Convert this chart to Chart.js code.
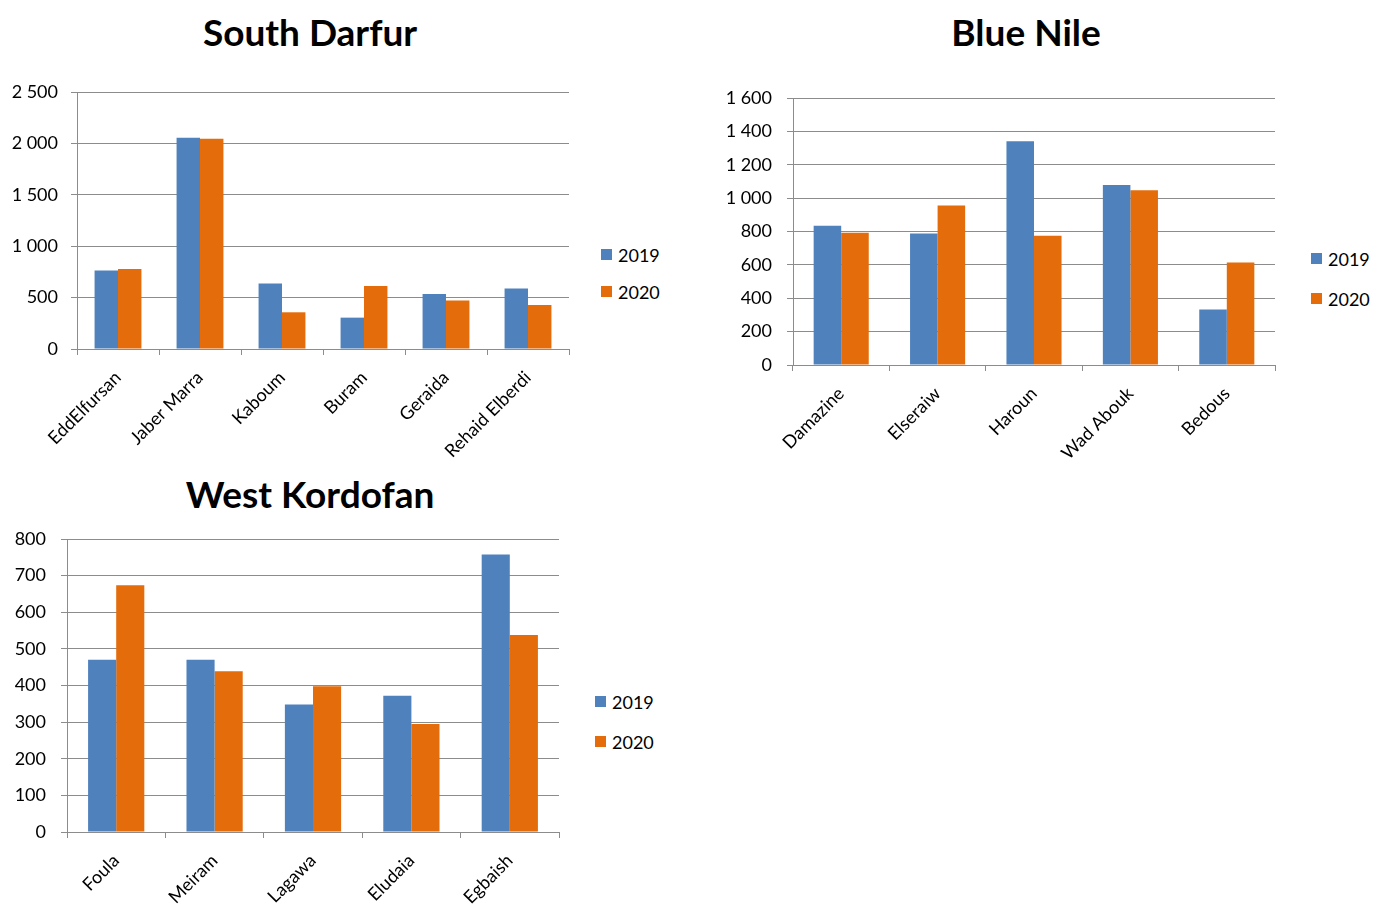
<!DOCTYPE html>
<html>
<head>
<meta charset="utf-8">
<title>2019 / 2020</title>
<script src="https://cdn.jsdelivr.net/npm/chart.js@4.4.1/dist/chart.umd.min.js"></script>
<style>
  body { margin: 0; background: #fff; font-family: Lato, "Open Sans", sans-serif; }
  #page { position: relative; width: 1377px; height: 909px; overflow: hidden; }
  canvas { position: absolute; }
  .title { position: absolute; transform: translate(-50%, -50%); font-weight: bold; font-size: 37px; white-space: nowrap; color: #000; }
  .legend { position: absolute; font-size: 18px; color: #000; }
  .legend div { position: relative; height: 20px; line-height: 20px; padding-left: 17px; }
  .legend span { position: absolute; left: 0; top: 4px; width: 11px; height: 11px; }
</style>
</head>
<body>
<div id="page">
  <div class="title" style="left:310px; top:31px">South Darfur</div>
  <div class="title" style="left:1026px; top:31px">Blue Nile</div>
  <div class="title" style="left:310px; top:493px">West Kordofan</div>
  <canvas id="darfur"></canvas>
  <canvas id="nile"></canvas>
  <canvas id="kordofan"></canvas>
  <div class="legend" id="darfurLegend" style="left:601px; top:245px"></div>
  <div class="legend" id="nileLegend" style="left:1311px; top:249px"></div>
  <div class="legend" id="kordofanLegend" style="left:595px; top:692px"></div>
</div>
<script>
const years = ['2019', '2020'];
const colors = ['#4F81BD', '#E46C0A'];

const darfurSites = ['EddElfursan', 'Jaber Marra', 'Kaboum', 'Buram', 'Geraida', 'Rehaid Elberdi'];
const darfur2019 = [763, 2055, 636, 305, 536, 588];
const darfur2020 = [779, 2046, 357, 614, 471, 429];
const darfurTicks = [0, 500, 1000, 1500, 2000, 2500];

const nileSites = ['Damazine', 'Elseraiw', 'Haroun', 'Wad Abouk', 'Bedous'];
const nile2019 = [834, 788, 1341, 1079, 333];
const nile2020 = [792, 956, 774, 1047, 614];
const nileTicks = [0, 200, 400, 600, 800, 1000, 1200, 1400, 1600];

const kordofanSites = ['Foula', 'Meiram', 'Lagawa', 'Eludaia', 'Egbaish'];
const kordofan2019 = [470, 470, 348, 372, 758];
const kordofan2020 = [674, 439, 398, 295, 538];
const kordofanTicks = [0, 100, 200, 300, 400, 500, 600, 700, 800];

const gridColor = '#8c8c8c';
const tickFont = { family: 'Lato, "Open Sans", sans-serif', size: 18 };

// "2500" -> "2 500"
function spaced(v) {
  return String(v).replace(/\B(?=(\d{3})+(?!\d))/g, ' ');
}

function fillLegend(id, gap) {
  const el = document.getElementById(id);
  years.forEach((y, i) => {
    const row = document.createElement('div');
    row.style.marginBottom = gap + 'px';
    row.innerHTML = '<span style="background:' + colors[i] + '"></span>' + y;
    el.appendChild(row);
  });
}

// box = plot area edges on the page, plus room for the axis labels
function drawPanel(id, sites, first, second, ticks, box) {
  const canvas = document.getElementById(id);
  const pad = 14;
  const left = box.left - box.axisW;
  const top = box.top - pad;
  canvas.style.left = left + 'px';
  canvas.style.top = top + 'px';
  canvas.width = box.right + 10 - left;
  canvas.height = box.bottom + box.labelsH - top;

  new Chart(canvas, {
    type: 'bar',
    data: {
      labels: sites,
      datasets: [
        { label: years[0], data: first, backgroundColor: colors[0] },
        { label: years[1], data: second, backgroundColor: colors[1] }
      ]
    },
    options: {
      responsive: false,
      animation: false,
      layout: { padding: { top: pad, right: 10 } },
      datasets: { bar: { categoryPercentage: 2 / 3.5, barPercentage: 1 } },
      plugins: { legend: { display: false }, tooltip: { enabled: false } },
      scales: {
        x: {
          grid: { offset: true, drawOnChartArea: false, color: gridColor, tickLength: 6 },
          border: { color: gridColor },
          ticks: { color: '#000', font: tickFont, minRotation: 45, maxRotation: 45, autoSkip: false, padding: 12 },
          afterFit: s => {
            s.height = box.labelsH;
            s.paddingLeft = 0;
            s.paddingRight = 0;
          }
        },
        y: {
          min: ticks[0],
          max: ticks[ticks.length - 1],
          afterBuildTicks: s => { s.ticks = ticks.map(v => ({ value: v })); },
          grid: { color: gridColor, tickLength: 6 },
          border: { color: gridColor },
          ticks: { color: '#000', font: tickFont, padding: box.labelPad, callback: spaced },
          afterFit: s => {
            s.width = box.axisW;
            s.paddingTop = 0;
            s.paddingBottom = 0;
          }
        }
      }
    }
  });
}

drawPanel('darfur', darfurSites, darfur2019, darfur2020, darfurTicks,
  { left: 77, right: 569, top: 92, bottom: 349, axisW: 77, labelsH: 120, labelPad: 13 });
drawPanel('nile', nileSites, nile2019, nile2020, nileTicks,
  { left: 793, right: 1275, top: 98, bottom: 365, axisW: 96, labelsH: 110, labelPad: 15 });
drawPanel('kordofan', kordofanSites, kordofan2019, kordofan2020, kordofanTicks,
  { left: 67, right: 559, top: 539, bottom: 832, axisW: 67, labelsH: 77, labelPad: 15 });

fillLegend('darfurLegend', 17);
fillLegend('nileLegend', 20);
fillLegend('kordofanLegend', 20);
</script>
</body>
</html>
